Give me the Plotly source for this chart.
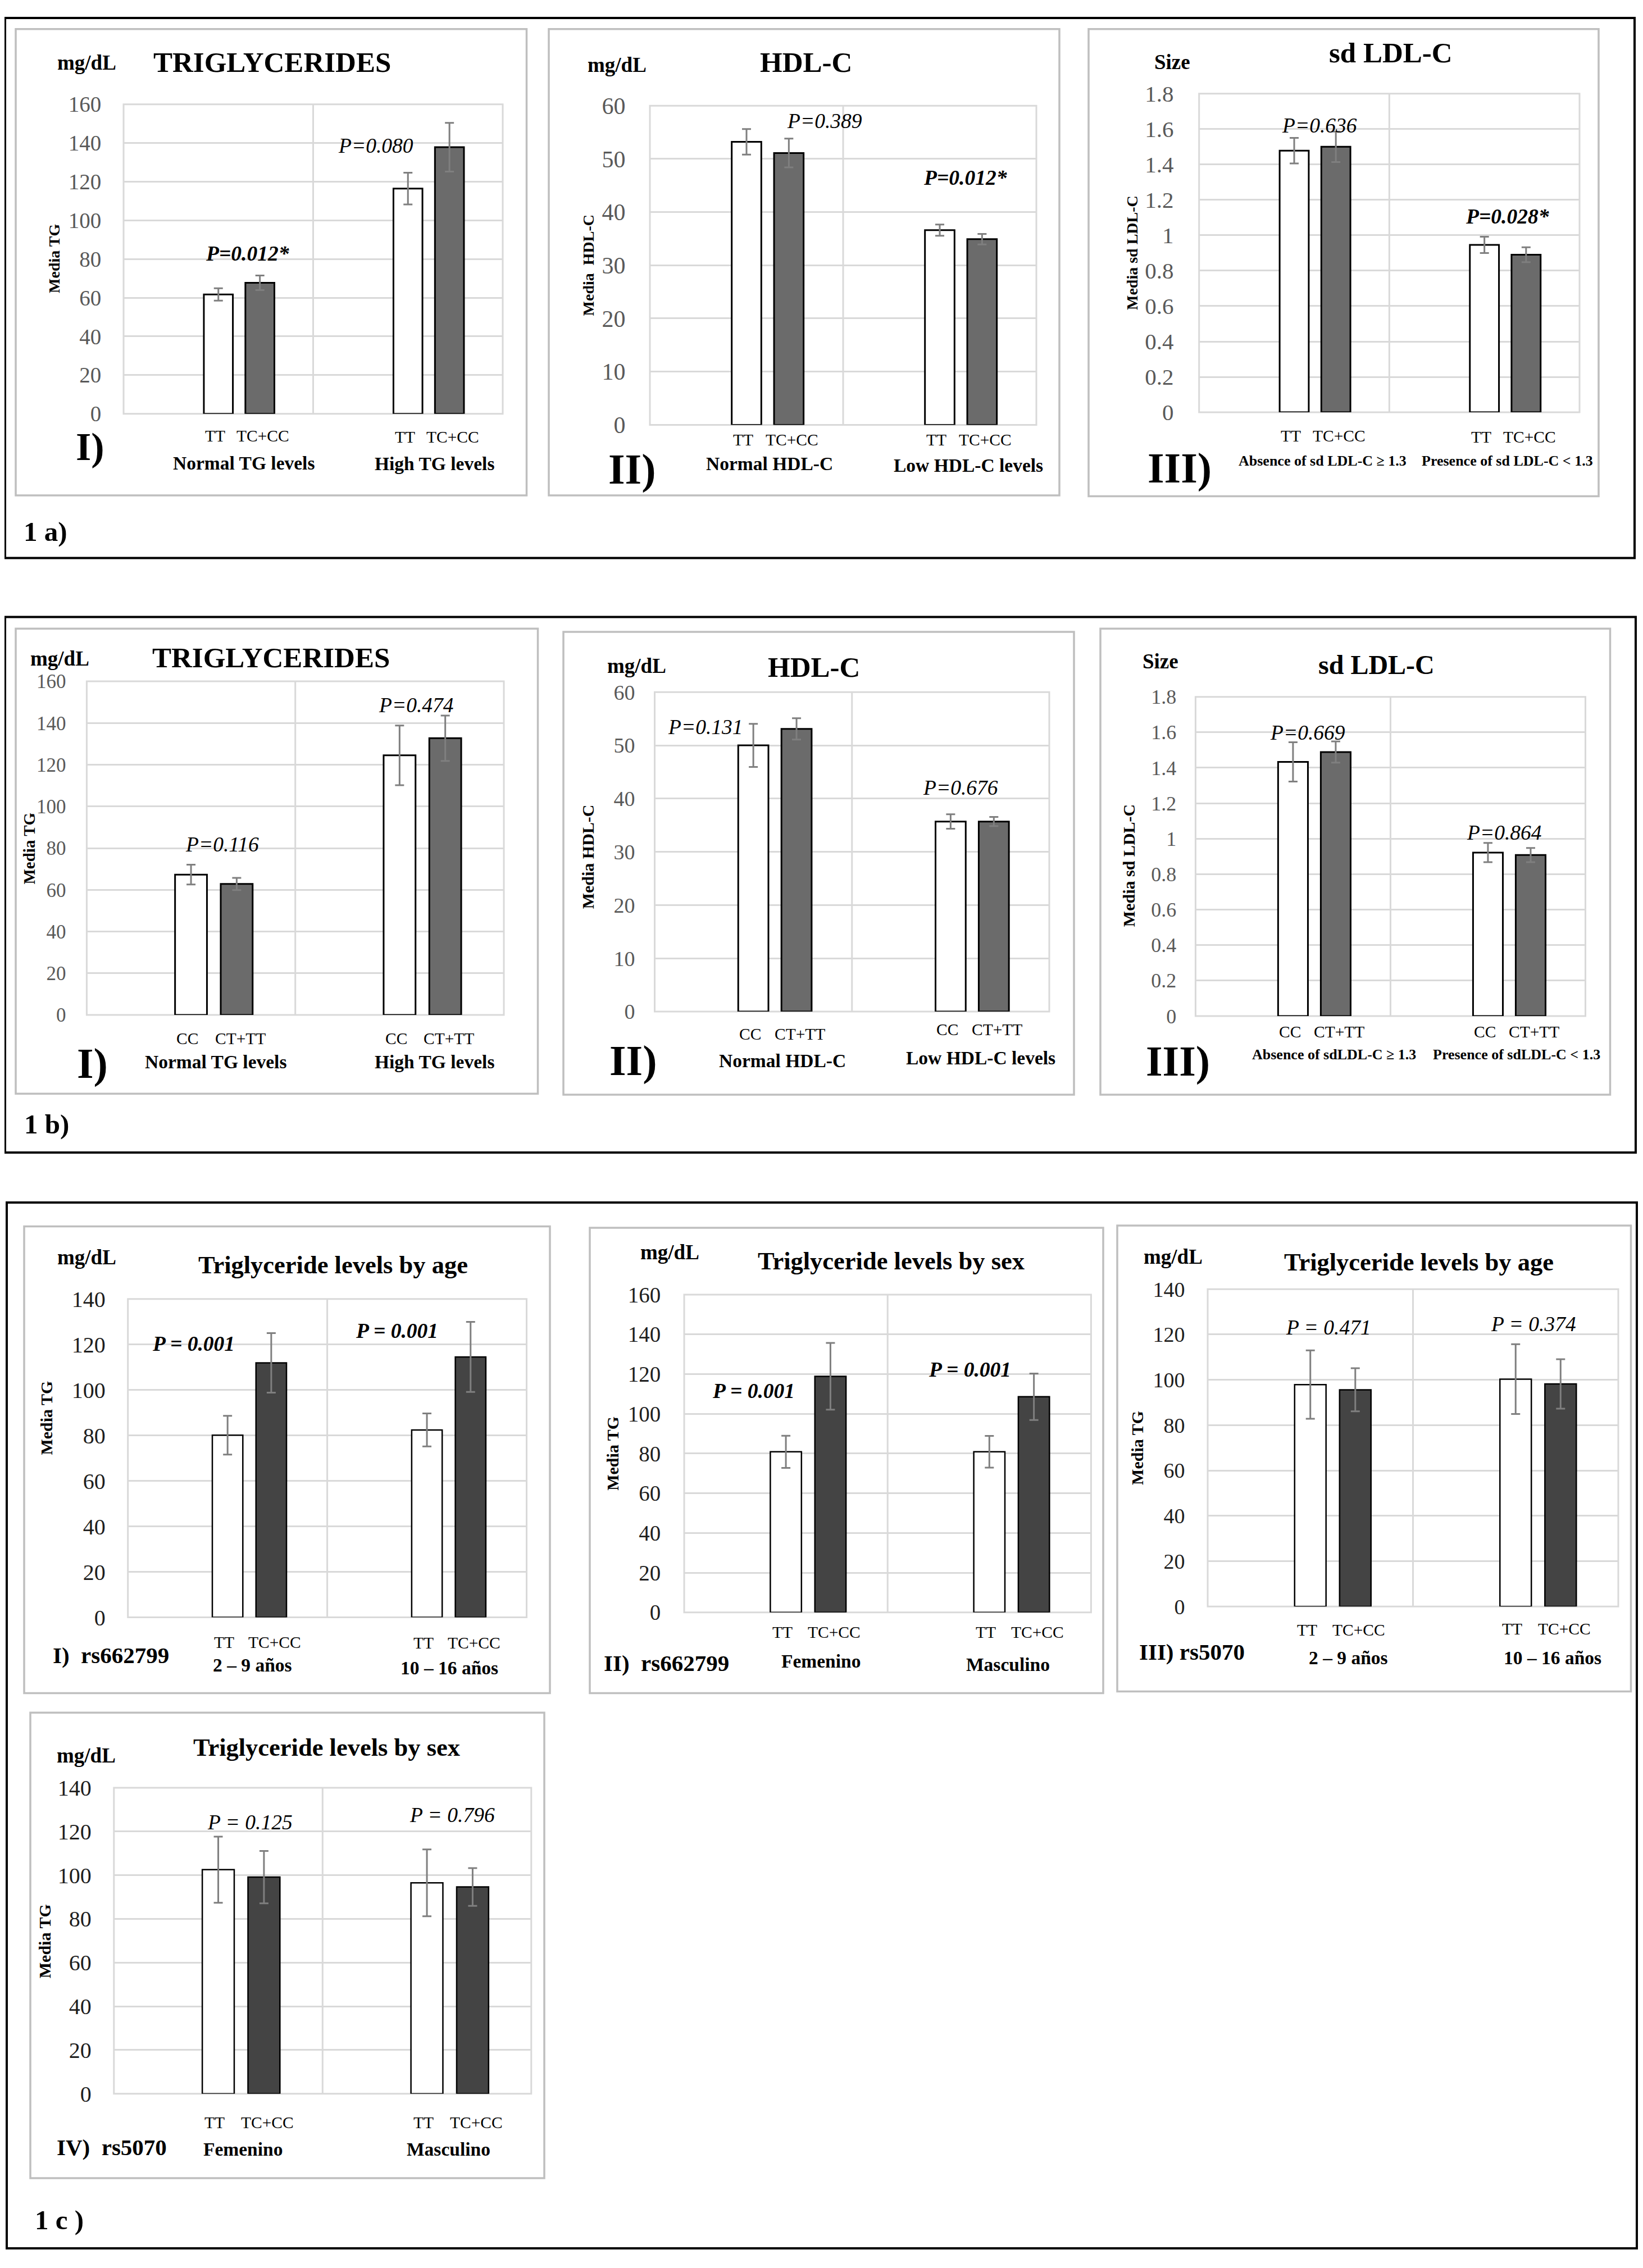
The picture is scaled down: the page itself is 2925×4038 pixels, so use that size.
import plotly.graph_objects as go

PAGE_W, PAGE_H = 2925, 4038
BODY_MARGIN = 8  # default page margin around the plot div
W, H = PAGE_W - 2 * BODY_MARGIN, PAGE_H - 2 * BODY_MARGIN
FONT = "Liberation Serif"

# ---------------- DATA ----------------
TICKS_160 = [0, 20, 40, 60, 80, 100, 120, 140, 160]
TICKS_140 = [0, 20, 40, 60, 80, 100, 120, 140]
TICKS_60 = [0, 10, 20, 30, 40, 50, 60]
TICKS_18 = [0, 0.2, 0.4, 0.6, 0.8, 1, 1.2, 1.4, 1.6, 1.8]

GENO_A = ["TT", "TC+CC"]
GENO_B = ["CC", "CT+TT"]

# 1 a) I  Triglycerides
A1_CATS = ["Normal TG levels", "High TG levels"]
A1_REF = [61.7, 116.4]
A1_REF_ERR = [3.2, 8.2]
A1_ALT = [67.7, 137.8]
A1_ALT_ERR = [3.8, 12.6]
A1_P = ["P=0.012*", "P=0.080"]
# 1 a) II  HDL-C
A2_CATS = ["Normal HDL-C", "Low HDL-C levels"]
A2_REF = [53.2, 36.6]
A2_REF_ERR = [2.4, 1.05]
A2_ALT = [51.1, 34.9]
A2_ALT_ERR = [2.7, 1.0]
A2_P = ["P=0.389", "P=0.012*"]
# 1 a) III  sd LDL-C
A3_CATS = ["Absence of sd LDL-C ≥ 1.3", "Presence of sd LDL-C < 1.3"]
A3_REF = [1.478, 0.946]
A3_REF_ERR = [0.072, 0.046]
A3_ALT = [1.50, 0.89]
A3_ALT_ERR = [0.086, 0.042]
A3_P = ["P=0.636", "P=0.028*"]

# 1 b) I  Triglycerides
B1_CATS = ["Normal TG levels", "High TG levels"]
B1_REF = [67.3, 124.5]
B1_REF_ERR = [4.75, 14.3]
B1_ALT = [62.8, 132.7]
B1_ALT_ERR = [2.9, 10.9]
B1_P = ["P=0.116", "P=0.474"]
# 1 b) II  HDL-C
B2_CATS = ["Normal HDL-C", "Low HDL-C levels"]
B2_REF = [50.0, 35.7]
B2_REF_ERR = [4.05, 1.35]
B2_ALT = [53.1, 35.7]
B2_ALT_ERR = [2.0, 0.85]
B2_P = ["P=0.131", "P=0.676"]
# 1 b) III  sd LDL-C
B3_CATS = ["Absence of sdLDL-C ≥ 1.3", "Presence of sdLDL-C < 1.3"]
B3_REF = [1.433, 0.922]
B3_REF_ERR = [0.111, 0.054]
B3_ALT = [1.489, 0.908]
B3_ALT_ERR = [0.06, 0.04]
B3_P = ["P=0.669", "P=0.864"]

# 1 c) I  rs662799 by age
C1_CATS = ["2 – 9 años", "10 – 16 años"]
C1_REF = [80.1, 82.4]
C1_REF_ERR = [8.5, 7.25]
C1_ALT = [111.9, 114.5]
C1_ALT_ERR = [13.1, 15.4]
C1_P = ["P = 0.001", "P = 0.001"]
# 1 c) II  rs662799 by sex
C2_CATS = ["Femenino", "Masculino"]
C2_REF = [80.9, 80.9]
C2_REF_ERR = [8.1, 8.0]
C2_ALT = [118.9, 108.6]
C2_ALT_ERR = [16.8, 11.7]
C2_P = ["P = 0.001", "P = 0.001"]
# 1 c) III  rs5070 by age
C3_CATS = ["2 – 9 años", "10 – 16 años"]
C3_REF = [97.9, 100.3]
C3_REF_ERR = [15.1, 15.4]
C3_ALT = [95.6, 98.2]
C3_ALT_ERR = [9.5, 10.9]
C3_P = ["P = 0.471", "P = 0.374"]
# 1 c) IV  rs5070 by sex
C4_CATS = ["Femenino", "Masculino"]
C4_REF = [102.5, 96.5]
C4_REF_ERR = [15.1, 15.3]
C4_ALT = [99.1, 94.6]
C4_ALT_ERR = [12.0, 8.65]
C4_P = ["P = 0.125", "P = 0.796"]

# ---------------- LAYOUT / STYLE ----------------
BAR_W = 0.153
SLOT = 0.219
LABEL_SPREAD = 0.017
GRID = "#d9d9d9"
FRAME = "#bfbfbf"
ERR = "#7f7f7f"

AB_STYLE = dict(alt_color="#6b6b6b", bar_line=3, tick_color="#595959")
C_STYLE = dict(alt_color="#444444", bar_line=2.5, tick_color="#1e1e1e")

panels = [
    dict(title="TRIGLYCERIDES", title_size=51, unit="mg/dL", ytitle="Media TG", ytitle_size=28,
         label="I)", label_size=70, cats=A1_CATS, geno=GENO_A, ref=A1_REF, ref_err=A1_REF_ERR,
         alt=A1_ALT, alt_err=A1_ALT_ERR, pvals=A1_P, pbold=[True, False], ticks=TICKS_160,
         plot=(220, 895, 164.5, 722), frame=(28, 29, 937.5, 869), tick_gap=36, tick_size=39,
         unit_xy=(154, 89), title_xy=(484, 89), ytitle_xy=(97, 443),
         group_xy=[(434, 811), (774, 812)], group_size=33.5, label_xy=(160, 782),
         geno_y=[762, 764], p_xy=[(0.154, 82.7), (0.830, 138.6)], **AB_STYLE),
    dict(title="HDL-C", title_size=51, unit="mg/dL", ytitle="Media\u00a0\u00a0HDL-C", ytitle_size=28,
         label="II)", label_size=76, cats=A2_CATS, geno=GENO_A, ref=A2_REF, ref_err=A2_REF_ERR,
         alt=A2_ALT, alt_err=A2_ALT_ERR, pvals=A2_P, pbold=[False, True], ticks=TICKS_60,
         plot=(1157, 1845, 167, 742), frame=(977, 29, 1886, 869), tick_gap=39, tick_size=42,
         unit_xy=(1098, 94), title_xy=(1434.6, 89), ytitle_xy=(1047.6, 455),
         group_xy=[(1370, 812), (1724, 815)], group_size=33.5, label_xy=(1124.7, 822),
         geno_y=[768.5, 768.5], p_xy=[(0.403, 57.1), (1.133, 46.5)], **AB_STYLE),
    dict(title="sd LDL-C", title_size=51, unit="Size", ytitle="Media sd LDL-C", ytitle_size=28,
         label="III)", label_size=76, cats=A3_CATS, geno=GENO_A, ref=A3_REF, ref_err=A3_REF_ERR,
         alt=A3_ALT, alt_err=A3_ALT_ERR, pvals=A3_P, pbold=[False, True], ticks=TICKS_18,
         plot=(2134.7, 2812, 145.4, 719.4), frame=(1938, 29, 2846, 870.5), tick_gap=41, tick_size=41,
         unit_xy=(2086.7, 88), title_xy=(2476, 71.4), ytitle_xy=(2015, 432),
         group_xy=[(2354, 807), (2683.5, 807)], group_size=26, label_xy=(2099.5, 819.5),
         geno_y=[762, 764], p_xy=[(0.134, 1.62), (1.122, 1.106)], **AB_STYLE),
    dict(title="TRIGLYCERIDES", title_size=51, unit="mg/dL", ytitle="Media TG", ytitle_size=29,
         label="I)", label_size=76, cats=B1_CATS, geno=GENO_B, ref=B1_REF, ref_err=B1_REF_ERR,
         alt=B1_ALT, alt_err=B1_ALT_ERR, pvals=B1_P, pbold=[False, False], ticks=TICKS_160,
         plot=(154.4, 897, 1204, 1805), frame=(28, 1109, 957.5, 1947), tick_gap=34, tick_size=35,
         unit_xy=(106, 1163), title_xy=(482.5, 1161.6), ytitle_xy=(52, 1505),
         group_xy=[(384, 1889), (774, 1889)], group_size=33.5, label_xy=(164, 1893),
         geno_y=[1847, 1847], p_xy=[(0.148, 81.8), (1.079, 148.5)], **AB_STYLE),
    dict(title="HDL-C", title_size=51, unit="mg/dL", ytitle="Media HDL-C", ytitle_size=30,
         label="II)", label_size=76, cats=B2_CATS, geno=GENO_B, ref=B2_REF, ref_err=B2_REF_ERR,
         alt=B2_ALT, alt_err=B2_ALT_ERR, pvals=B2_P, pbold=[False, False], ticks=TICKS_60,
         plot=(1165.5, 1868, 1223.5, 1799), frame=(1003, 1115, 1912, 1948.6), tick_gap=31.5, tick_size=38,
         unit_xy=(1133, 1175.7), title_xy=(1448.5, 1179), ytitle_xy=(1046, 1520),
         group_xy=[(1393, 1887), (1745.5, 1882)], group_size=33.5, label_xy=(1127, 1887),
         geno_y=[1839, 1831], p_xy=[(-0.243, 53.4), (1.051, 42.0)], **AB_STYLE),
    dict(title="sd LDL-C", title_size=48, unit="Size", ytitle="Media sd LDL-C", ytitle_size=30,
         label="III)", label_size=76, cats=B3_CATS, geno=GENO_B, ref=B3_REF, ref_err=B3_REF_ERR,
         alt=B3_ALT, alt_err=B3_ALT_ERR, pvals=B3_P, pbold=[False, False], ticks=TICKS_18,
         plot=(2128.4, 2822.5, 1232, 1807), frame=(1959, 1109, 2866.5, 1948.6), tick_gap=31, tick_size=36,
         unit_xy=(2065.6, 1168), title_xy=(2450, 1174.4), ytitle_xy=(2009, 1536),
         group_xy=[(2374.7, 1876), (2700, 1876)], group_size=26, label_xy=(2097, 1888.7),
         geno_y=[1835.7, 1835.7], p_xy=[(0.075, 1.597), (1.084, 1.034)], **AB_STYLE),
    dict(title="Triglyceride levels by age", title_size=44.5, unit="mg/dL", ytitle="Media TG", ytitle_size=30,
         label="I)\u00a0\u00a0rs662799", label_size=41, cats=C1_CATS, geno=GENO_A, ref=C1_REF, ref_err=C1_REF_ERR,
         alt=C1_ALT, alt_err=C1_ALT_ERR, pvals=C1_P, pbold=[True, True], ticks=TICKS_140,
         plot=(227.7, 937.5, 2316.7, 2890.3), frame=(43, 2186, 979, 3026.7), tick_gap=36, tick_size=40,
         unit_xy=(154, 2242), title_xy=(593, 2255.7), ytitle_xy=(81.6, 2531.5),
         group_xy=[(449.6, 2976.3), (800.4, 2981)], group_size=33.5, label_xy=(197.7, 2958.5),
         geno_y=[2934.8, 2936], p_xy=[(-0.171, 120.2), (0.849, 125.9)], **C_STYLE),
    dict(title="Triglyceride levels by sex", title_size=44.5, unit="mg/dL", ytitle="Media TG", ytitle_size=30,
         label="II)\u00a0\u00a0rs662799", label_size=41, cats=C2_CATS, geno=GENO_A, ref=C2_REF, ref_err=C2_REF_ERR,
         alt=C2_ALT, alt_err=C2_ALT_ERR, pvals=C2_P, pbold=[True, True], ticks=TICKS_160,
         plot=(1218, 1942.4, 2309, 2881.4), frame=(1050, 2188.6, 1964, 3026.7), tick_gap=38, tick_size=39,
         unit_xy=(1192, 2232), title_xy=(1587, 2248.5), ytitle_xy=(1091, 2595),
         group_xy=[(1461.7, 2969), (1794, 2975)], group_size=33.5, label_xy=(1186, 2973),
         geno_y=[2917, 2917], p_xy=[(-0.16, 111.6), (0.905, 122.2)], **C_STYLE),
    dict(title="Triglyceride levels by age", title_size=44.5, unit="mg/dL", ytitle="Media TG", ytitle_size=30,
         label="III) rs5070", label_size=41, cats=C3_CATS, geno=GENO_A, ref=C3_REF, ref_err=C3_REF_ERR,
         alt=C3_ALT, alt_err=C3_ALT_ERR, pvals=C3_P, pbold=[False, False], ticks=TICKS_140,
         plot=(2150, 2881, 2299, 2870.7), frame=(1989, 2184.5, 2903.5, 3023.7), tick_gap=37, tick_size=38,
         unit_xy=(2088.5, 2240.8), title_xy=(2525.5, 2249.7), ytitle_xy=(2025, 2585),
         group_xy=[(2400, 2963), (2763.6, 2963)], group_size=33.5, label_xy=(2121.6, 2952.6),
         geno_y=[2912.8, 2911], p_xy=[(0.087, 123.0), (1.088, 124.5)], **C_STYLE),
    dict(title="Triglyceride levels by sex", title_size=44.5, unit="mg/dL", ytitle="Media TG", ytitle_size=30,
         label="IV)\u00a0\u00a0rs5070", label_size=41, cats=C4_CATS, geno=GENO_A, ref=C4_REF, ref_err=C4_REF_ERR,
         alt=C4_ALT, alt_err=C4_ALT_ERR, pvals=C4_P, pbold=[False, False], ticks=TICKS_140,
         plot=(202.8, 945.8, 3197.2, 3748.5), frame=(54, 3062, 969, 3900.6), tick_gap=36, tick_size=40,
         unit_xy=(153, 3138.7), title_xy=(581.6, 3124.7), ytitle_xy=(79.7, 3474),
         group_xy=[(432.4, 3848.4), (798.5, 3848.4)], group_size=33.5, label_xy=(199, 3845),
         geno_y=[3800.7, 3800.7], p_xy=[(0.151, 124.2), (1.12, 127.4)], **C_STYLE),
]

OUTER_BOXES = [(9, 9, 2910, 982), (9, 1088, 2912, 2053), (12, 2143, 2914, 4027)]
FIG_LABELS = [("1 a)", 81, 934), ("1 b)", 82.5, 2001.5), ("1 c )", 105, 3975.7)]


def px(x):
    return (x - BODY_MARGIN) / W


def py(y):
    return 1 - (y - BODY_MARGIN) / H


def esc(s):
    return s.replace("<", "&lt;").replace(">", "&gt;")


def ann(x, y, text, size, xref="paper", yref="paper", angle=0, color="black", xanchor="center"):
    return dict(x=x, y=y, xref=xref, yref=yref, text=text, showarrow=False,
                xanchor=xanchor, yanchor="middle", textangle=angle,
                font=dict(family=FONT, size=size, color=color))


fig = go.Figure()
layout = dict(width=W, height=H, margin=dict(l=0, r=0, t=0, b=0),
              paper_bgcolor="white", plot_bgcolor="rgba(0,0,0,0)",
              barmode="overlay", showlegend=False)
shapes = []
annotations = []

for k, p in enumerate(panels, start=1):
    sx = "" if k == 1 else str(k)
    xname, yname = "x" + sx, "y" + sx
    l, r, t, b = p["plot"]
    idx = list(range(len(p["cats"])))
    ticks = p["ticks"]

    layout["xaxis" + sx] = dict(domain=[px(l), px(r)], anchor=yname, type="linear",
                                range=[-0.5, len(idx) - 0.5], showgrid=False, zeroline=False,
                                showticklabels=False, showline=False, fixedrange=True)
    layout["yaxis" + sx] = dict(domain=[py(b), py(t)], anchor=xname, range=[0, ticks[-1]],
                                tickmode="array", tickvals=ticks, ticktext=[f"{v:g}" for v in ticks],
                                showgrid=True, gridcolor=GRID, gridwidth=3, zeroline=False,
                                showline=False, ticks="outside", ticklen=max(p["tick_gap"] - 5, 1),
                                tickcolor="rgba(0,0,0,0)",
                                tickfont=dict(family=FONT, size=p["tick_size"], color=p["tick_color"]),
                                fixedrange=True)

    # bars
    fig.add_trace(go.Bar(x=idx, y=p["ref"], width=BAR_W, offset=-BAR_W / 2,
                         marker=dict(color="white", line=dict(color="black", width=p["bar_line"])),
                         error_y=dict(type="data", array=p["ref_err"], color=ERR, thickness=3, width=8),
                         xaxis=xname, yaxis=yname, hoverinfo="skip", name=p["geno"][0]))
    fig.add_trace(go.Bar(x=idx, y=p["alt"], width=BAR_W, offset=SLOT - BAR_W / 2,
                         marker=dict(color=p["alt_color"], line=dict(color="black", width=p["bar_line"])),
                         error_y=dict(type="data", array=p["alt_err"], color=ERR, thickness=3, width=8),
                         xaxis=xname, yaxis=yname, hoverinfo="skip", name=p["geno"][1]))

    # plot-area border and category divider
    shapes.append(dict(type="rect", xref=xname + " domain", yref=yname + " domain",
                       x0=0, x1=1, y0=0, y1=1, line=dict(color=GRID, width=3), layer="below"))
    for i in idx[:-1]:
        shapes.append(dict(type="line", xref=xname, yref=yname + " domain",
                           x0=i + 0.5, x1=i + 0.5, y0=0, y1=1,
                           line=dict(color=GRID, width=3), layer="below"))
    # panel frame
    fx0, fy0, fx1, fy1 = p["frame"]
    shapes.append(dict(type="rect", xref="paper", yref="paper", x0=px(fx0), x1=px(fx1),
                       y0=py(fy1), y1=py(fy0), line=dict(color=FRAME, width=3.5)))

    # texts
    annotations.append(ann(px(p["unit_xy"][0]), py(p["unit_xy"][1]), f"<b>{p['unit']}</b>", 37))
    annotations.append(ann(px(p["title_xy"][0]), py(p["title_xy"][1]), f"<b>{p['title']}</b>", p["title_size"]))
    annotations.append(ann(px(p["ytitle_xy"][0]), py(p["ytitle_xy"][1]), f"<b>{p['ytitle']}</b>",
                           p["ytitle_size"], angle=-90))
    annotations.append(ann(px(p["label_xy"][0]), py(p["label_xy"][1]), f"<b>{p['label']}</b>", p["label_size"]))
    for i in idx:
        gx, gy = p["group_xy"][i]
        annotations.append(ann(px(gx), py(gy), f"<b>{esc(p['cats'][i])}</b>", p["group_size"]))
        annotations.append(ann(i - LABEL_SPREAD, py(p["geno_y"][i]), p["geno"][0], 29.5, xref=xname))
        annotations.append(ann(i + SLOT + LABEL_SPREAD, py(p["geno_y"][i]), p["geno"][1], 29.5, xref=xname))
        ptxt = p["pvals"][i]
        ptxt = f"<b><i>{ptxt}</i></b>" if p["pbold"][i] else f"<i>{ptxt}</i>"
        annotations.append(ann(p["p_xy"][i][0], p["p_xy"][i][1], ptxt, 37.5, xref=xname, yref=yname))

for (x0, y0, x1, y1) in OUTER_BOXES:
    shapes.append(dict(type="rect", xref="paper", yref="paper", x0=px(x0), x1=px(x1),
                       y0=py(y1), y1=py(y0), line=dict(color="black", width=4)))
for (txt, x, y) in FIG_LABELS:
    annotations.append(ann(px(x), py(y), f"<b>{txt}</b>", 49))

layout["shapes"] = shapes
layout["annotations"] = annotations
fig.update_layout(**layout)
fig.write_html("out.html")
